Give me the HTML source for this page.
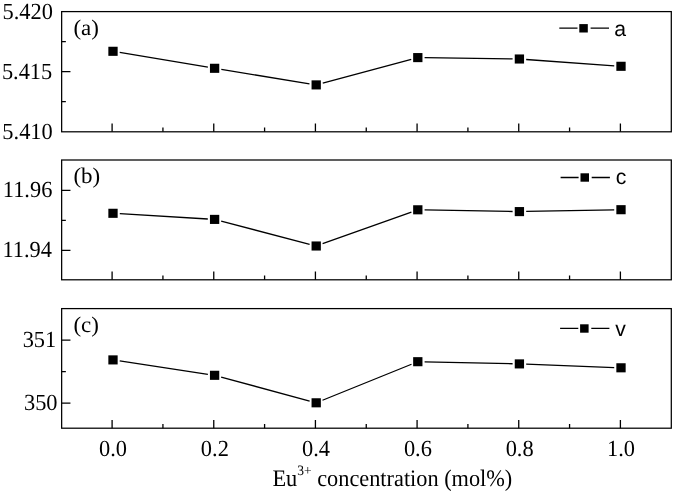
<!DOCTYPE html><html><head><meta charset="utf-8"><style>html,body{margin:0;padding:0;background:#fff;overflow:hidden}svg{display:block;text-rendering:geometricPrecision;filter:grayscale(1)}</style></head><body>
<svg width="675" height="497" viewBox="0 0 675 497">
<rect width="675" height="497" fill="#fff"/>
<rect x="61.65" y="11.6" width="609.65" height="120.20" fill="none" stroke="#000" stroke-width="1.25"/>
<path d="M112.10 131.8V123.50M162.93 131.8V127.60M213.76 131.8V123.50M264.59 131.8V127.60M315.42 131.8V123.50M366.25 131.8V127.60M417.08 131.8V123.50M467.91 131.8V127.60M518.74 131.8V123.50M569.57 131.8V127.60M620.40 131.8V123.50M61.65 41.7H65.85M61.65 71.7H70.45M61.65 101.7H65.85" stroke="#000" stroke-width="1.3" fill="none"/>
<path d="M119.71 52.42L207.89 67.18M221.31 69.40L309.49 83.80M322.77 83.14L411.23 59.36M424.60 57.69L512.60 58.91M526.18 59.49L614.22 65.81" stroke="#000" stroke-width="1.3" fill="none"/>
<rect x="108.35" y="46.75" width="9.3" height="9.1" fill="#000"/>
<rect x="209.95" y="63.75" width="9.3" height="9.1" fill="#000"/>
<rect x="311.55" y="80.35" width="9.3" height="9.1" fill="#000"/>
<rect x="413.15" y="53.05" width="9.3" height="9.1" fill="#000"/>
<rect x="514.75" y="54.45" width="9.3" height="9.1" fill="#000"/>
<rect x="616.35" y="61.75" width="9.3" height="9.1" fill="#000"/>
<rect x="61.65" y="160.0" width="609.65" height="119.80" fill="none" stroke="#000" stroke-width="1.25"/>
<path d="M112.10 279.8V271.50M162.93 279.8V275.60M213.76 279.8V271.50M264.59 279.8V275.60M315.42 279.8V271.50M366.25 279.8V275.60M417.08 279.8V271.50M467.91 279.8V275.60M518.74 279.8V271.50M569.57 279.8V275.60M620.40 279.8V271.50M61.65 190.3H70.45M61.65 220.3H65.85M61.65 250.3H70.45" stroke="#000" stroke-width="1.3" fill="none"/>
<path d="M119.79 213.71L207.81 218.99M221.18 221.12L309.62 244.28M322.61 243.72L411.39 212.08M424.60 209.92L512.60 211.48M526.20 211.47L614.20 209.83" stroke="#000" stroke-width="1.3" fill="none"/>
<rect x="108.35" y="208.75" width="9.3" height="9.1" fill="#000"/>
<rect x="209.95" y="214.85" width="9.3" height="9.1" fill="#000"/>
<rect x="311.55" y="241.45" width="9.3" height="9.1" fill="#000"/>
<rect x="413.15" y="205.25" width="9.3" height="9.1" fill="#000"/>
<rect x="514.75" y="207.05" width="9.3" height="9.1" fill="#000"/>
<rect x="616.35" y="205.15" width="9.3" height="9.1" fill="#000"/>
<rect x="61.65" y="308.6" width="609.65" height="119.60" fill="none" stroke="#000" stroke-width="1.25"/>
<path d="M112.10 428.2V419.90M162.93 428.2V424.00M213.76 428.2V419.90M264.59 428.2V424.00M315.42 428.2V419.90M366.25 428.2V424.00M417.08 428.2V419.90M467.91 428.2V424.00M518.74 428.2V419.90M569.57 428.2V424.00M620.40 428.2V419.90M61.65 340.1H70.45M61.65 371.7H65.85M61.65 403.1H70.45" stroke="#000" stroke-width="1.3" fill="none"/>
<path d="M119.72 360.92L207.88 374.28M221.16 377.08L309.64 401.02M322.50 400.25L411.50 364.25M424.60 361.85L512.60 363.75M526.19 364.16L614.21 367.54" stroke="#000" stroke-width="1.3" fill="none"/>
<rect x="108.35" y="355.35" width="9.3" height="9.1" fill="#000"/>
<rect x="209.95" y="370.75" width="9.3" height="9.1" fill="#000"/>
<rect x="311.55" y="398.25" width="9.3" height="9.1" fill="#000"/>
<rect x="413.15" y="357.15" width="9.3" height="9.1" fill="#000"/>
<rect x="514.75" y="359.35" width="9.3" height="9.1" fill="#000"/>
<rect x="616.35" y="363.25" width="9.3" height="9.1" fill="#000"/>
<text transform="translate(52.85 18.87) scale(1 1.03)" font-family='"Liberation Serif", serif' font-size="22.4" text-anchor="end" fill="#000">5.420</text>
<text transform="translate(52.27 78.97) scale(1 1.03)" font-family='"Liberation Serif", serif' font-size="22.4" text-anchor="end" fill="#000">5.415</text>
<text transform="translate(52.75 138.87) scale(1 1.03)" font-family='"Liberation Serif", serif' font-size="22.4" text-anchor="end" fill="#000">5.410</text>
<text transform="translate(52.37 197.37) scale(1 1.03)" font-family='"Liberation Serif", serif' font-size="22.4" text-anchor="end" fill="#000">11.96</text>
<text transform="translate(51.95 257.17) scale(1 1.03)" font-family='"Liberation Serif", serif' font-size="22.4" text-anchor="end" fill="#000">11.94</text>
<text transform="translate(56.25 346.97) scale(1 1.03)" font-family='"Liberation Serif", serif' font-size="22.4" text-anchor="end" fill="#000">351</text>
<text transform="translate(57.55 409.97) scale(1 1.03)" font-family='"Liberation Serif", serif' font-size="22.4" text-anchor="end" fill="#000">350</text>
<text transform="translate(99.00 455.67) scale(1 1.03)" font-family='"Liberation Serif", serif' font-size="22.4" text-anchor="start" fill="#000">0.0</text>
<text transform="translate(200.85 455.67) scale(1 1.03)" font-family='"Liberation Serif", serif' font-size="22.4" text-anchor="start" fill="#000">0.2</text>
<text transform="translate(302.07 455.67) scale(1 1.03)" font-family='"Liberation Serif", serif' font-size="22.4" text-anchor="start" fill="#000">0.4</text>
<text transform="translate(403.89 455.67) scale(1 1.03)" font-family='"Liberation Serif", serif' font-size="22.4" text-anchor="start" fill="#000">0.6</text>
<text transform="translate(505.64 455.67) scale(1 1.03)" font-family='"Liberation Serif", serif' font-size="22.4" text-anchor="start" fill="#000">0.8</text>
<text transform="translate(607.04 455.67) scale(1 1.03)" font-family='"Liberation Serif", serif' font-size="22.4" text-anchor="start" fill="#000">1.0</text>
<text transform="translate(73.39 35.10) scale(1 0.97)" font-family='"Liberation Serif", serif' font-size="23" text-anchor="start" fill="#000">(a)</text>
<text transform="translate(73.39 183.00) scale(1 0.97)" font-family='"Liberation Serif", serif' font-size="23" text-anchor="start" fill="#000">(b)</text>
<text transform="translate(73.39 332.20) scale(1 0.97)" font-family='"Liberation Serif", serif' font-size="23" text-anchor="start" fill="#000">(c)</text>
<path d="M559.3 28.2H577.5M590.6 28.2H609.0" stroke="#000" stroke-width="1.3"/>
<rect x="579.3" y="24.10" width="8.5" height="8.4" fill="#000"/>
<text transform="translate(614.20 35.60) scale(1 1.0)" font-family='"Liberation Sans", sans-serif' font-size="21.2" text-anchor="start" fill="#000">a</text>
<path d="M560.6 177.5H578.6M591.7 177.5H609.9" stroke="#000" stroke-width="1.3"/>
<rect x="580.5" y="173.30" width="8.5" height="8.4" fill="#000"/>
<text transform="translate(615.70 184.10) scale(1 1.0)" font-family='"Liberation Sans", sans-serif' font-size="21.2" text-anchor="start" fill="#000">c</text>
<path d="M560.1 328.4H578.3M591.3 328.4H609.4" stroke="#000" stroke-width="1.3"/>
<rect x="580.1" y="324.30" width="8.5" height="8.4" fill="#000"/>
<text transform="translate(615.23 336.00) scale(1 1.0)" font-family='"Liberation Sans", sans-serif' font-size="21.2" text-anchor="start" fill="#000">v</text>
<text transform="translate(272.4 485.6) scale(1 1.06)" font-family='"Liberation Serif", serif' font-size="22.4" fill="#000">Eu<tspan font-size="13.5" dy="-10.4">3+</tspan><tspan dy="10.4" font-size="22.3"> concentration (mol%)</tspan></text>
</svg></body></html>
